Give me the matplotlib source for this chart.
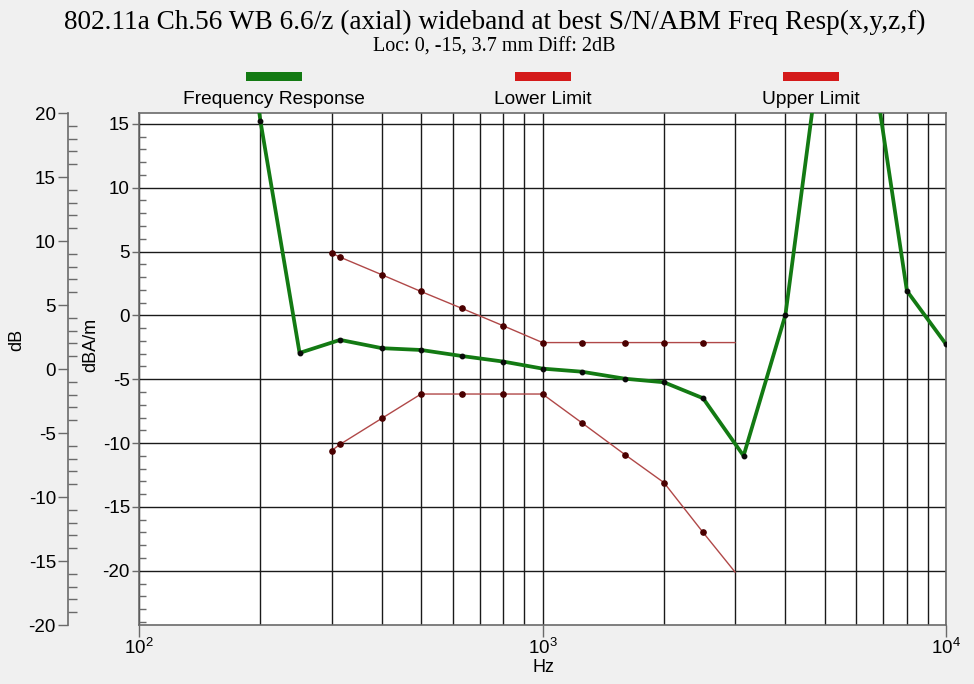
import matplotlib
matplotlib.use('Agg')
import matplotlib.pyplot as plt
from matplotlib.ticker import FixedLocator, MultipleLocator, NullFormatter, LogLocator
from matplotlib.patches import Rectangle

# ---------------- data ----------------
resp_hz = [160, 200, 250, 315, 400, 500, 630, 800, 1000, 1250, 1600, 2000,
           2500, 3150, 4000, 5000, 6300, 8000, 10000]
resp_dba = [38.0, 15.2, -2.94, -1.92, -2.57, -2.71, -3.18, -3.62, -4.17, -4.41,
            -4.96, -5.24, -6.49, -11.0, 0.04, 23.3, 23.8, 1.92, -2.26]

limit_hz = [300, 315, 400, 500, 630, 800, 1000, 1250, 1600, 2000, 2500, 3000]
upper_dba = [4.88, 4.56, 3.18, 1.87, 0.56, -0.82, -2.13, -2.13, -2.13, -2.13, -2.13, -2.13]
lower_dba = [-10.6, -10.1, -8.06, -6.16, -6.16, -6.16, -6.16, -8.4, -10.9, -13.1, -17.0, -20.1]

legend_labels = ["Frequency Response", "Lower Limit", "Upper Limit"]
title = "802.11a Ch.56 WB 6.6/z (axial) wideband at best S/N/ABM Freq Resp(x,y,z,f)"
subtitle = "Loc: 0, -15, 3.7 mm Diff: 2dB"

# ---------------- style ----------------
W, H = 974, 684
plt.rcParams['font.family'] = ['Liberation Sans', 'DejaVu Sans']
plt.rcParams['axes.unicode_minus'] = False
BG = '#f0f0f0'
AXC = '#6a6a6a'
GRID = '#1a1a1a'
GREEN = '#137a13'
RED = '#d41a1a'
LIM = '#b04848'
PT = 0.72  # points per pixel at 100 dpi

fig = plt.figure(figsize=(W / 100, H / 100), dpi=100, facecolor=BG)

def fx(px):
    return px / W

def fy(py):
    return 1 - py / H

ax = fig.add_axes([fx(139), fy(625), fx(946) - fx(139), fy(113) - fy(625)])
ax.set_facecolor('white')
ax.set_xscale('log')
ax.set_xlim(100, 10000)
ax.set_ylim(-24.25, 15.85)

# grid
ax.xaxis.set_major_locator(FixedLocator([100, 1000, 10000]))
ax.xaxis.set_minor_locator(LogLocator(base=10, subs=range(2, 10)))
ax.xaxis.set_minor_formatter(NullFormatter())
ax.yaxis.set_major_locator(MultipleLocator(5))
ax.yaxis.set_minor_locator(MultipleLocator(1))
ax.grid(True, which='both', axis='x', color=GRID, lw=1.0)
ax.grid(True, which='major', axis='y', color=GRID, lw=1.0)
ax.set_axisbelow(True)

for s in ax.spines.values():
    s.set_color(AXC)
    s.set_linewidth(1.2)

ax.tick_params(axis='x', which='major', direction='out', length=12 * PT, width=1,
               color=AXC, labelsize=13.5, pad=0.5)
ax.tick_params(axis='x', which='minor', length=0)
ax.tick_params(axis='y', which='major', direction='out', length=7 * PT, width=1,
               color=AXC, labelsize=13.5, pad=1.5)
ax.tick_params(axis='y', which='minor', direction='in', length=7 * PT, width=1, color=AXC)

# series
ax.plot(resp_hz, resp_dba, color=GREEN, lw=2.7, zorder=4, solid_joinstyle='round')
ax.plot(resp_hz, resp_dba, ls='none', marker='o', ms=3.2, color='#0a0a0a', zorder=5)
ax.plot(limit_hz, upper_dba, color=LIM, lw=1.0, zorder=3)
ax.plot(limit_hz[:-1], upper_dba[:-1], ls='none', marker='o', ms=3.8, color='#4a0000', zorder=3)
ax.plot(limit_hz, lower_dba, color=LIM, lw=1.0, zorder=3)
ax.plot(limit_hz[:-1], lower_dba[:-1], ls='none', marker='o', ms=3.8, color='#4a0000', zorder=3)

# outer dB axis
ax2 = ax.twinx()
ax2.set_ylim(-20, 20)
ax2.yaxis.set_ticks_position('left')
ax2.yaxis.set_label_position('left')
ax2.spines['left'].set_position(('outward', 71 * PT))
for k in ['right', 'top', 'bottom']:
    ax2.spines[k].set_visible(False)
ax2.spines['left'].set_color(AXC)
ax2.spines['left'].set_linewidth(1.2)
ax2.yaxis.set_major_locator(MultipleLocator(5))
ax2.yaxis.set_minor_locator(MultipleLocator(1))
ax2.tick_params(axis='y', which='major', direction='out', length=10 * PT, width=1,
                color=AXC, labelsize=13.5, pad=1.5)
ax2.tick_params(axis='y', which='minor', direction='in', length=9 * PT, width=1, color=AXC)

# axis labels
fig.text(fx(17), fy(340), "dB", rotation=90, ha='center', va='center', fontsize=13)
fig.text(fx(91), fy(345), "dBA/m", rotation=90, ha='center', va='center', fontsize=13)
fig.text(fx(543), fy(668), "Hz", ha='center', va='center', fontsize=13)

# title
fig.text(fx(495), fy(22), title, ha='center', va='center', fontsize=19.6,
         family='Liberation Serif')
fig.text(fx(494), fy(47), subtitle, ha='center', va='center', fontsize=14.5,
         family='Liberation Serif')

# legend
legend_centers = [274, 543, 811]
legend_colors = [GREEN, RED, RED]
for cx, lab, col in zip(legend_centers, legend_labels, legend_colors):
    fig.add_artist(Rectangle((fx(cx - 28), fy(81)), 56 / W, 9 / H,
                             transform=fig.transFigure, facecolor=col,
                             edgecolor='none'))
    fig.text(fx(cx), fy(99), lab, ha='center', va='center', fontsize=13.8)

fig.savefig('out.png', dpi=100, facecolor=BG)
